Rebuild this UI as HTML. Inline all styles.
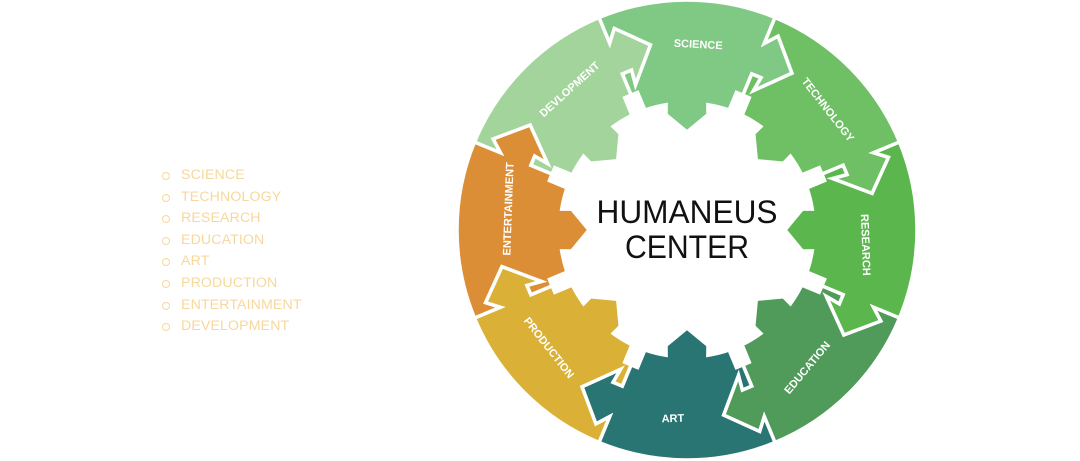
<!DOCTYPE html>
<html><head><meta charset="utf-8"><style>
html,body{margin:0;padding:0;background:#fff;}
body{width:1080px;height:461px;position:relative;overflow:hidden;font-family:"Liberation Sans",sans-serif;}
.lg{position:absolute;left:162px;top:165px;color:#f7d89c;font-size:14.2px;line-height:21.6px;}
.lg div{position:relative;padding-left:19px;letter-spacing:0.1px;}
.lg div:before{content:"";position:absolute;left:0;top:7px;width:6px;height:6px;border:1.3px solid #f7d89c;border-radius:50%;}
</style></head><body>
<div class="lg">
<div>SCIENCE</div><div>TECHNOLOGY</div><div>RESEARCH</div><div>EDUCATION</div><div>ART</div><div>PRODUCTION</div><div>ENTERTAINMENT</div><div>DEVELOPMENT</div>
</div>
<svg id="s" width="1080" height="461" style="position:absolute;left:0;top:0" xmlns="http://www.w3.org/2000/svg">
<g id="g"></g>
<g font-family="Liberation Sans, sans-serif" font-weight="bold" fill="#fff" font-size="11" text-anchor="middle">
<text transform="translate(698,48) rotate(3)">SCIENCE</text>
<text transform="translate(825,112) rotate(52)">TECHNOLOGY</text>
<text transform="translate(862,245) rotate(88)">RESEARCH</text>
<text transform="translate(810,370) rotate(-50)">EDUCATION</text>
<text transform="translate(673,422) rotate(-2)">ART</text>
<text transform="translate(546,350) rotate(52)">PRODUCTION</text>
<text transform="translate(512,209) rotate(-88)">ENTERTAINMENT</text>
<text transform="translate(572,92) rotate(-42)">DEVLOPMENT</text>
</g>
<g font-family="Liberation Sans, sans-serif" fill="#111" font-size="32" text-anchor="middle">
<text x="687" y="223" textLength="181" lengthAdjust="spacingAndGlyphs">HUMANEUS</text>
<text x="687" y="258" textLength="124" lengthAdjust="spacingAndGlyphs">CENTER</text>
</g>
</svg>
<script>
(function(){
var cx=687,cy=230,R=230,rb=146,ri=127;
var cols=["#80c985","#6fc064","#5bb74d","#509b5a","#297574","#dab136","#dc8e36","#a3d49c"];
function P(a,rad,t){var u=[Math.cos(a),Math.sin(a)],v=[-Math.sin(a),Math.cos(a)];return [cx+rad*u[0]+t*v[0],cy+rad*u[1]+t*v[1]];}
var tab=[[rb,0],[169,0],[169,10],[154,8],[185,37],[214,10],[202,0],[R,0]];
var d2r=Math.PI/180,out="";
function L(arr){return arr.map(function(p){return p[0].toFixed(1)+","+p[1].toFixed(1);}).join(" L");}
for(var i=0;i<8;i++){
 var a0=(-112.5+45*i)*d2r,a1=a0+45*d2r,am=(a0+a1)/2;
 var pts=[];
 tab.forEach(function(p){pts.push(P(a0,p[0],p[1]));});
 var path="M"+L(pts);
 var e=P(a1,R,0);
 path+=" A"+R+","+R+" 0 0 1 "+e[0].toFixed(1)+","+e[1].toFixed(1);
 pts=[];
 for(var k=tab.length-1;k>=0;k--)pts.push(P(a1,tab[k][0],tab[k][1]));
 path+=" L"+L(pts);
 var q=[P(a1,rb,-7),P(a1,ri,-7)];
 path+=" L"+L(q);
 var s=21/ri;
 var b=P(am+s,ri,0);
 path+=" A"+ri+","+ri+" 0 0 0 "+b[0].toFixed(1)+","+b[1].toFixed(1);
 q=[P(am,117,21),P(am,117,23),P(am,98,0),P(am,117,-23),P(am,117,-21),P(am-s,ri,0)];
 path+=" L"+L(q);
 var c=P(a0,ri,7);
 path+=" A"+ri+","+ri+" 0 0 0 "+c[0].toFixed(1)+","+c[1].toFixed(1);
 var f=P(a0,rb,7);
 path+=" L"+f[0].toFixed(1)+","+f[1].toFixed(1)+" Z";
 out+='<path d="'+path+'" fill="'+cols[i]+'" stroke="#fff" stroke-width="3.5" stroke-linejoin="miter"/>';
}
document.getElementById("g").innerHTML=out;
})();
</script>
</body></html>
